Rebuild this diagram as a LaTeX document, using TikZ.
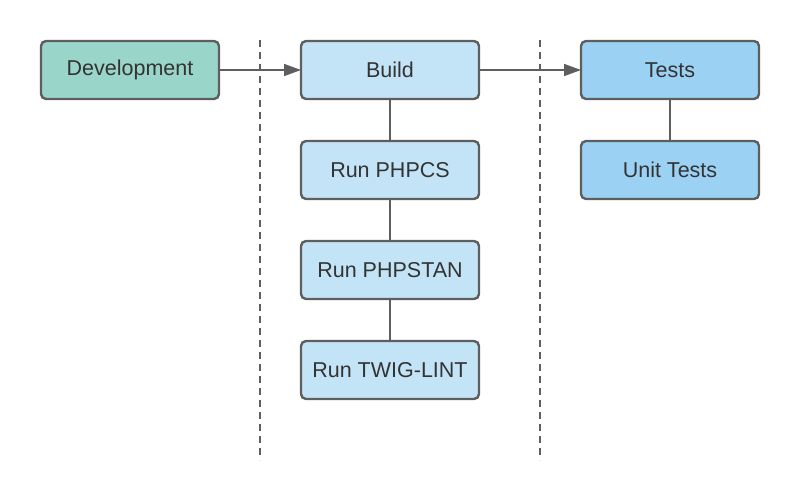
\documentclass[tikz,border=0pt]{standalone}
\usepackage{fontspec}
\setmainfont{Liberation Sans}
\usetikzlibrary{positioning,arrows.meta}
\definecolor{edgegray}{HTML}{5E5E5E}
\definecolor{devgreen}{HTML}{9AD5CA}
\definecolor{buildblue}{HTML}{C3E4F6}
\definecolor{testblue}{HTML}{9BD1F2}
\tikzset{
    stage-box/.style = {draw=edgegray, line width=2.4pt, rectangle, rounded corners=5pt, outer sep=0pt, minimum width=178pt, minimum height=58pt, font=\fontsize{21.5}{25}\selectfont, text=black!80},
    flow-arrow/.style = {draw=edgegray, line width=1.6pt, -{Triangle[length=17pt,width=12pt]}},
    link-line/.style = {draw=edgegray, line width=1.6pt},
    lane-line/.style = {draw=edgegray, line width=1.8pt, dash pattern=on 7pt off 5pt},
}

\begin{document}
\begin{tikzpicture}[x=1pt,y=-1pt]
\useasboundingbox (0,0) rectangle (800,500);
% lanes
\coordinate (lane1top) at (260,40);
\coordinate (lane1bot) at (260,460);
\coordinate (lane2top) at (540,40);
\coordinate (lane2bot) at (540,460);
\draw[lane-line] (lane1top) -- (lane1bot);
\draw[lane-line] (lane2top) -- (lane2bot);
% stages
\node[stage-box, fill=devgreen] (dev) at (130,70) {Development};
\node[stage-box, fill=buildblue] (build) at (390,70) {Build};
\node[stage-box, fill=testblue] (tests) at (670,70) {Tests};
% build steps
\node[stage-box, fill=buildblue, below=42pt of build] (phpcs) {Run PHPCS};
\node[stage-box, fill=buildblue, below=42pt of phpcs] (phpstan) {Run PHPSTAN};
\node[stage-box, fill=buildblue, below=42pt of phpstan] (twiglint) {Run TWIG-LINT};
% test steps
\node[stage-box, fill=testblue, below=42pt of tests] (unit) {Unit Tests};
% connectors
\draw[flow-arrow] (dev) -- (build);
\draw[flow-arrow] (build) -- (tests);
\draw[link-line] (build) -- (phpcs);
\draw[link-line] (phpcs) -- (phpstan);
\draw[link-line] (phpstan) -- (twiglint);
\draw[link-line] (tests) -- (unit);
\end{tikzpicture}
\end{document}
